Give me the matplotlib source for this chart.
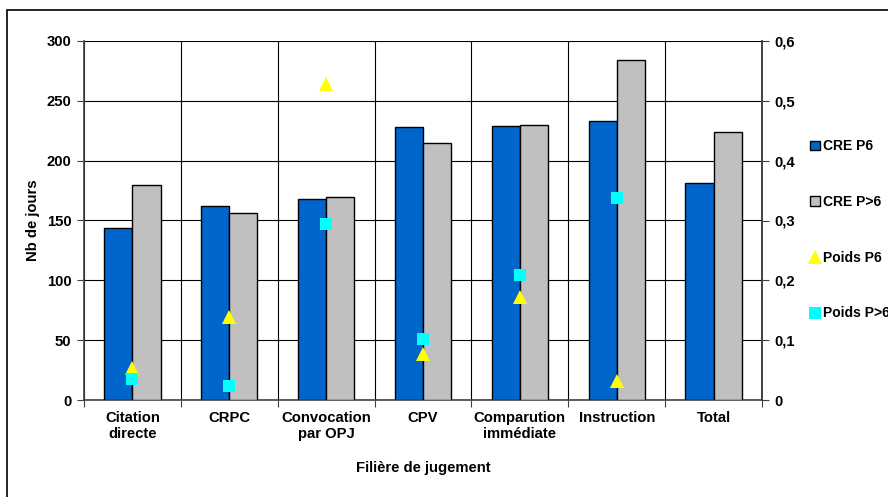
import matplotlib.pyplot as plt
import matplotlib.patches as patches
import numpy as np

plt.rcParams['font.family'] = ['Liberation Sans', 'DejaVu Sans']
plt.rcParams['font.weight'] = 'bold'

# données par filière
filieres = ['Citation\ndirecte', 'CRPC', 'Convocation\npar OPJ', 'CPV',
            'Comparution\nimmédiate', 'Instruction', 'Total']
cre_p6 = [144, 162, 168, 228, 229, 233, 181]
cre_p_sup6 = [180, 156, 170, 215, 230, 284, 224]
poids_p6 = [0.053, 0.139, 0.528, 0.077, 0.172, 0.032, np.nan]
poids_p_sup6 = [0.035, 0.023, 0.294, 0.102, 0.209, 0.338, np.nan]

fs = 10.7

fig = plt.figure(figsize=(8.88, 4.97), dpi=100)
ax = fig.add_axes([84/888, 1-400/497, (762-84)/888, (400-41)/497])

x = np.arange(len(filieres))
w = 0.29
b1 = ax.bar(x - w/2, cre_p6, w, color='#0066CC', edgecolor='black', linewidth=1, label='CRE P6', zorder=3)
b2 = ax.bar(x + w/2, cre_p_sup6, w, color='#C0C0C0', edgecolor='black', linewidth=1, label='CRE P>6', zorder=3)

ax.set_xlim(-0.5, len(filieres) - 0.5)
ax.set_ylim(0, 300)
ax.set_yticks(range(0, 301, 50))
ax.set_xticks(np.arange(-0.5, len(filieres), 1))
ax.set_xticklabels([])
ax.set_xticks(x, minor=True)
ax.set_xticklabels(filieres, minor=True, fontsize=fs, fontweight='bold')
ax.tick_params(axis='x', which='minor', length=0, pad=8)
ax.tick_params(axis='x', which='major', length=5, direction='out', color='#404040')
ax.tick_params(axis='y', length=5, direction='out', labelsize=fs, pad=4, color='#404040')
ax.grid(True, which='major', color='black', linewidth=0.8, zorder=0)
ax.set_axisbelow(True)
ax.spines['top'].set_visible(False)
for s in ['left', 'bottom', 'right']:
    ax.spines[s].set_color('#404040')
    ax.spines[s].set_linewidth(1.2)

ax.set_ylabel('Nb de jours', fontsize=fs, fontweight='bold', labelpad=5)
ax.set_xlabel('Filière de jugement', fontsize=fs, fontweight='bold', labelpad=14)

# axe secondaire pour les poids
ax2 = ax.twinx()
ax2.set_ylim(0, 0.6)
ax2.set_yticks(np.arange(0, 0.61, 0.1))
ax2.set_yticklabels(['0', '0,1', '0,2', '0,3', '0,4', '0,5', '0,6'])
ax2.tick_params(axis='y', length=5, direction='out', labelsize=fs, pad=4, color='#404040')
for s in ['top', 'left', 'bottom']:
    ax2.spines[s].set_visible(False)
ax2.spines['right'].set_color('#404040')
ax2.spines['right'].set_linewidth(1.2)
l1, = ax2.plot(x, poids_p6, linestyle='none', marker='^', markersize=10,
               color='#FFFF00', markeredgewidth=0, label='Poids P6', zorder=4)
l2, = ax2.plot(x, poids_p_sup6, linestyle='none', marker='s', markersize=8,
               color='#00FFFF', markeredgewidth=0, label='Poids P>6', zorder=4)

fig.legend([b1, b2, l1, l2], ['CRE P6', 'CRE P>6', 'Poids P6', 'Poids P>6'],
           loc='center left', bbox_to_anchor=(810/888, 1-230/497), frameon=False,
           fontsize=10, handlelength=0.7, handleheight=0.7, handletextpad=0.2,
           labelspacing=3.0, numpoints=1, borderpad=0, borderaxespad=0)

# cadre du graphique
fig.add_artist(patches.Rectangle((7/888, -0.1), 1.2, 1.1 - 10/497,
                                 transform=fig.transFigure, fill=False,
                                 edgecolor='black', linewidth=1.2, clip_on=False))

fig.savefig('out.png', dpi=100)
